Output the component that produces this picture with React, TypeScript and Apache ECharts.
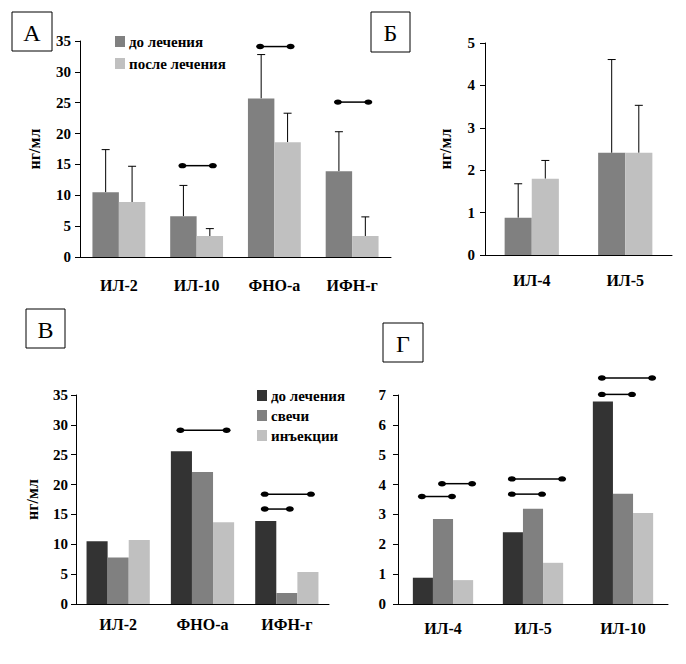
import React, { useEffect, useRef } from "react";
import * as echarts from "echarts";

// Panel А: cytokines before / after treatment (mean + SD)
const catsA = ["ИЛ-2", "ИЛ-10", "ФНО-а", "ИФН-г"];
const beforeA = [10.5, 6.6, 25.7, 13.9];
const afterA = [8.9, 3.4, 18.6, 3.4];
const sdBeforeA = [6.9, 5.0, 7.1, 6.4];
const sdAfterA = [5.8, 1.2, 4.7, 3.1];
// [category, level, from bar, to bar]
const sigA = [
  [1, 14.8, 0, 1],
  [2, 34.1, 0, 1],
  [3, 25.1, 0, 1],
];

// Panel Б
const catsB = ["ИЛ-4", "ИЛ-5"];
const beforeB = [0.88, 2.41];
const afterB = [1.8, 2.41];
const sdBeforeB = [0.8, 2.2];
const sdAfterB = [0.43, 1.12];

// Panel В: before treatment vs suppositories vs injections
const catsV = ["ИЛ-2", "ФНО-а", "ИФН-г"];
const beforeV = [10.5, 25.6, 13.9];
const candlesV = [7.8, 22.1, 1.84];
const injectV = [10.7, 13.7, 5.36];
const sigV = [
  [1, 29.1, 0, 2],
  [2, 18.4, 0, 2],
  [2, 15.9, 0, 1],
];

// Panel Г
const catsG = ["ИЛ-4", "ИЛ-5", "ИЛ-10"];
const beforeG = [0.88, 2.4, 6.78];
const candlesG = [2.85, 3.19, 3.69];
const injectG = [0.8, 1.38, 3.05];
const sigG = [
  [0, 3.6, 0, 1],
  [0, 4.03, 1, 2],
  [1, 3.68, 0, 1],
  [1, 4.19, 0, 2],
  [2, 7.02, 0, 1],
  [2, 7.57, 0, 2],
];

const NAME_BEFORE = "до лечения";
const NAME_AFTER = "после лечения";
const NAME_CANDLES = "свечи";
const NAME_INJECT = "инъекции";

const FONT = "Liberation Serif";
const C_DARK = "#333333";
const C_MID = "#808080";
const C_LIGHT = "#c0c0c0";

function barOffset(pos: number, n: number, band: number, gap: number) {
  const bw = (band * (1 - gap)) / n;
  return (pos - (n - 1) / 2) * bw;
}

function errorSeries(
  idx: number,
  values: number[],
  sds: number[],
  pos: number,
  n: number,
  gap: number
) {
  return {
    type: "custom",
    xAxisIndex: idx,
    yAxisIndex: idx,
    clip: false,
    silent: true,
    encode: { x: 0, y: 1 },
    data: values.map((v, i) => [i, v, sds[i]]),
    renderItem: (_p: any, api: any) => {
      const cat = api.value(0);
      const val = api.value(1);
      const sd = api.value(2);
      const base = api.coord([cat, val]);
      const top = api.coord([cat, val + sd]);
      const band = api.size([1, 0])[0];
      const x = base[0] + barOffset(pos, n, band, gap);
      const st = { stroke: "#000", lineWidth: 1 };
      return {
        type: "group",
        children: [
          { type: "line", shape: { x1: x, y1: base[1], x2: x, y2: top[1] }, style: st },
          { type: "line", shape: { x1: x - 4, y1: top[1], x2: x + 4, y2: top[1] }, style: st },
        ],
      };
    },
  };
}

function sigSeries(idx: number, marks: number[][], n: number, gap: number, reach: number) {
  return {
    type: "custom",
    xAxisIndex: idx,
    yAxisIndex: idx,
    clip: false,
    silent: true,
    encode: { x: 0, y: 1 },
    data: marks,
    renderItem: (_p: any, api: any) => {
      const cat = api.value(0);
      const lvl = api.value(1);
      const from = api.value(2);
      const to = api.value(3);
      const p = api.coord([cat, lvl]);
      const band = api.size([1, 0])[0];
      const x1 = p[0] + barOffset(from, n, band, gap) - 1;
      const x2 = p[0] + barOffset(to, n, band, gap) + reach;
      const y = p[1];
      return {
        type: "group",
        children: [
          { type: "line", shape: { x1, y1: y, x2, y2: y }, style: { stroke: "#000", lineWidth: 1.5 } },
          { type: "ellipse", shape: { cx: x1, cy: y, rx: 4, ry: 2.7 }, style: { fill: "#000" } },
          { type: "ellipse", shape: { cx: x2, cy: y, rx: 4, ry: 2.7 }, style: { fill: "#000" } },
        ],
      };
    },
  };
}

function xAxis(idx: number, data: string[], margin: number) {
  return {
    type: "category",
    gridIndex: idx,
    data,
    axisTick: { show: false },
    axisLine: { show: true, lineStyle: { color: "#000", width: 1 } },
    axisLabel: { color: "#000", fontFamily: FONT, fontWeight: "bold", fontSize: 16, margin },
    splitLine: { show: false },
  };
}

function yAxis(idx: number, max: number, interval: number, name: string, nameGap: number, margin: number) {
  return {
    type: "value",
    gridIndex: idx,
    min: 0,
    max,
    interval,
    name,
    nameLocation: "middle",
    nameGap,
    nameRotate: 90,
    nameTextStyle: { color: "#000", fontFamily: FONT, fontWeight: "bold", fontSize: 16 },
    axisLine: { show: true, lineStyle: { color: "#000", width: 1 } },
    axisTick: { show: true, inside: false, length: 5, lineStyle: { color: "#000" } },
    axisLabel: { color: "#000", fontFamily: FONT, fontWeight: "bold", fontSize: 15, margin },
    splitLine: { show: false },
  };
}

function bar(idx: number, name: string, data: number[], color: string, gap: string) {
  return {
    type: "bar",
    name,
    xAxisIndex: idx,
    yAxisIndex: idx,
    data,
    barGap: "0%",
    barCategoryGap: gap,
    itemStyle: { color },
    silent: true,
  };
}

function panelTag(x: number, y: number, w: number, h: number, letter: string) {
  return {
    type: "group",
    children: [
      { type: "rect", shape: { x, y, width: w, height: h }, style: { fill: "#fff", stroke: "#000", lineWidth: 1 } },
      {
        type: "text",
        x: x + w / 2,
        y: y + h / 2 + 1,
        style: {
          text: letter,
          fill: "#000",
          font: `24px ${FONT}`,
          textAlign: "center",
          textVerticalAlign: "middle",
        },
      },
    ],
  };
}

const GAP_A = 0.32;
const GAP_B = 0.42;
const GAP_V = 0.25;
const GAP_G = 0.33;

export default function App() {
  const ref = useRef<HTMLDivElement>(null);

  useEffect(() => {
    if (!ref.current) return;
    const chart = echarts.init(ref.current, undefined, { renderer: "svg" });
    const legendText = { color: "#000", fontFamily: FONT, fontWeight: "bold", fontSize: 15, padding: [0, 0, 0, -1] };
    chart.setOption({
      animation: false,
      backgroundColor: "#fff",
      grid: [
        { left: 80, top: 41, width: 311, height: 216 },
        { left: 485, top: 43, width: 187, height: 212 },
        { left: 76, top: 395, width: 253, height: 209 },
        { left: 398, top: 395, width: 270, height: 209 },
      ],
      xAxis: [xAxis(0, catsA, 20), xAxis(1, catsB, 17), xAxis(2, catsV, 12), xAxis(3, catsG, 16)],
      yAxis: [
        yAxis(0, 35, 5, "нг/мл", 38, 9),
        yAxis(1, 5, 1, "нг/мл", 32, 10),
        yAxis(2, 35, 5, "нг/мл", 36, 8),
        yAxis(3, 7, 1, "", 0, 12),
      ],
      legend: [
        {
          left: 110,
          top: 29,
          orient: "vertical",
          icon: "rect",
          itemWidth: 10,
          itemHeight: 11,
          itemGap: 7,
          selectedMode: false,
          textStyle: legendText,
          data: [
            { name: NAME_BEFORE, itemStyle: { color: C_MID } },
            { name: NAME_AFTER, itemStyle: { color: C_LIGHT } },
          ],
        },
        {
          left: 252,
          top: 383,
          orient: "vertical",
          icon: "rect",
          itemWidth: 10,
          itemHeight: 11,
          itemGap: 5,
          selectedMode: false,
          textStyle: legendText,
          data: [
            { name: NAME_BEFORE, itemStyle: { color: C_DARK } },
            { name: NAME_CANDLES, itemStyle: { color: C_MID } },
            { name: NAME_INJECT, itemStyle: { color: C_LIGHT } },
          ],
        },
      ],
      graphic: [
        panelTag(12, 12, 40, 39, "А"),
        panelTag(371, 12, 39, 40, "Б"),
        panelTag(26, 309, 39, 39, "В"),
        panelTag(383, 323, 40, 39, "Г"),
      ],
      series: [
        bar(0, NAME_BEFORE, beforeA, C_MID, `${GAP_A * 100}%`),
        bar(0, NAME_AFTER, afterA, C_LIGHT, `${GAP_A * 100}%`),
        errorSeries(0, beforeA, sdBeforeA, 0, 2, GAP_A),
        errorSeries(0, afterA, sdAfterA, 1, 2, GAP_A),
        sigSeries(0, sigA, 2, GAP_A, 3),

        bar(1, NAME_BEFORE, beforeB, C_MID, `${GAP_B * 100}%`),
        bar(1, NAME_AFTER, afterB, C_LIGHT, `${GAP_B * 100}%`),
        errorSeries(1, beforeB, sdBeforeB, 0, 2, GAP_B),
        errorSeries(1, afterB, sdAfterB, 1, 2, GAP_B),

        bar(2, NAME_BEFORE, beforeV, C_DARK, `${GAP_V * 100}%`),
        bar(2, NAME_CANDLES, candlesV, C_MID, `${GAP_V * 100}%`),
        bar(2, NAME_INJECT, injectV, C_LIGHT, `${GAP_V * 100}%`),
        sigSeries(2, sigV, 3, GAP_V, 3),

        bar(3, NAME_BEFORE, beforeG, C_DARK, `${GAP_G * 100}%`),
        bar(3, NAME_CANDLES, candlesG, C_MID, `${GAP_G * 100}%`),
        bar(3, NAME_INJECT, injectG, C_LIGHT, `${GAP_G * 100}%`),
        sigSeries(3, sigG, 3, GAP_G, 9),
      ],
    });
    return () => chart.dispose();
  }, []);

  return (
    <div
      ref={ref}
      style={{ position: "absolute", left: 0, top: 0, width: 686, height: 664, background: "#fff" }}
    />
  );
}
